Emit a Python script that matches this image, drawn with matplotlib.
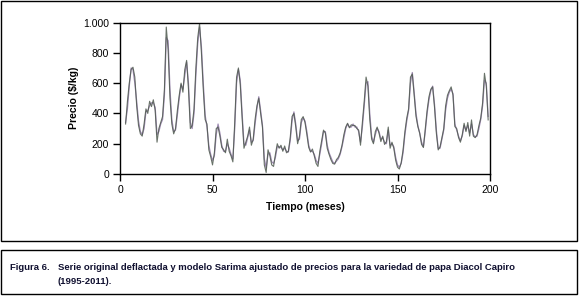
import numpy as np
import matplotlib
matplotlib.use("Agg")
from matplotlib import pyplot as plt
from matplotlib.patches import Rectangle
from matplotlib.ticker import FuncFormatter

plt.rcParams['font.family'] = ['Liberation Sans Narrow', 'Liberation Sans', 'DejaVu Sans']

# months 3..199
months = np.arange(3, 200)

# original deflated series ($/kg)
serie = [
    330, 480, 600, 690, 705, 640, 450, 320, 265, 250,
    330, 430, 400, 480, 445, 490, 420, 210, 300, 340,
    380, 560, 970, 820, 500, 330, 265, 300, 420, 520,
    600, 540, 690, 750, 560, 300, 320, 430, 700, 900,
    995, 800, 560, 360, 330, 160, 115, 60, 140, 300,
    310, 250, 175, 160, 140, 230, 150, 120, 80, 340,
    640, 700, 590, 370, 170, 210, 250, 310, 190, 230,
    360, 450, 500, 400, 310, 60, 10, 160, 120, 60,
    50, 130, 200, 170, 190, 150, 185, 140, 150, 240,
    380, 400, 310, 200, 250, 360,
    379, 340, 260, 175, 145, 165, 120, 70, 50, 150,
    220, 290, 270, 170, 130, 95, 70, 65, 95, 110,
    140, 190, 260, 310, 335, 305, 325, 320, 320, 300,
    290, 190, 340, 480, 640, 580, 360, 230, 200, 280,
    310, 270, 214, 250, 195, 214, 310, 170, 210, 170,
    90, 45, 33, 75, 159, 280, 370, 430, 640, 660,
    520, 380, 313, 269, 195, 175, 300, 420, 510, 560,
    575, 440, 269, 159, 180, 240, 300, 450, 520, 550,
    575, 520, 313, 300, 240, 210, 260, 335, 280, 340,
    250, 357, 250, 240, 260, 320, 370, 470, 665, 580,
    357,
]

# fitted SARIMA model
sarima = [
    340, 430, 580, 700, 690, 600, 480, 350, 280, 260,
    300, 410, 420, 450, 470, 470, 440, 260, 280, 330,
    360, 520, 900, 880, 560, 360, 280, 290, 390, 500,
    590, 560, 650, 740, 600, 340, 300, 400, 650, 860,
    970, 840, 600, 390, 310, 190, 130, 90, 120, 260,
    330, 270, 190, 150, 150, 200, 170, 130, 100, 300,
    600, 690, 620, 400, 200, 190, 240, 290, 210, 220,
    330, 430, 510, 420, 320, 100, 40, 130, 140, 80,
    70, 110, 180, 180, 175, 160, 170, 150, 145, 220,
    350, 410, 330, 220, 230, 340,
    370, 350, 280, 190, 150, 150, 130, 90, 70, 130,
    200, 280, 280, 190, 140, 110, 80, 70, 85, 100,
    130, 180, 240, 300, 330, 310, 310, 330, 310, 310,
    280, 210, 310, 450, 600, 610, 400, 250, 210, 260,
    300, 280, 230, 240, 210, 200, 290, 190, 200, 180,
    110, 60, 45, 70, 140, 260, 350, 420, 600, 670,
    540, 400, 320, 270, 210, 180, 280, 400, 490, 550,
    580, 460, 290, 170, 170, 230, 290, 420, 500, 540,
    560, 530, 330, 290, 250, 220, 250, 320, 290, 320,
    270, 330, 260, 245, 250, 300, 360, 450, 620, 600,
    380,
]

x_ticks = [0, 50, 100, 150, 200]
y_ticks = [0, 200, 400, 600, 800, 1000]

fig = plt.figure(figsize=(5.79, 2.97), dpi=100)
ax = fig.add_axes([0.2073, 0.4141, 0.639, 0.5101])

ax.plot(months, sarima, color='#a08cb4', lw=0.9)
ax.plot(months, serie, color='#4f5a4f', lw=0.8, alpha=0.85)

ax.set_xlim(0, 200)
ax.set_ylim(0, 1000)
ax.set_xticks(x_ticks)
ax.set_yticks(y_ticks)
ax.yaxis.set_major_formatter(FuncFormatter(lambda v, p: "{:,.0f}".format(v).replace(",", ".")))
ax.tick_params(direction='out', length=5, width=1, labelsize=7.5, colors='black', pad=3)
for s in ax.spines.values():
    s.set_linewidth(1)

ax.set_xlabel("Tiempo (meses)", fontsize=7.5, fontweight='bold', labelpad=5)
ax.set_ylabel("Precio ($/kg)", fontsize=7.5, fontweight='bold', labelpad=3)

# frames round chart and caption
W, H = 579, 297
fig.patches.append(Rectangle((1 / W, 1 - 241 / H), 576 / W, 240 / H, transform=fig.transFigure,
                             fill=False, edgecolor='black', lw=1))
fig.patches.append(Rectangle((1 / W, 1 - 294 / H), 576 / W, 44 / H, transform=fig.transFigure,
                             fill=False, edgecolor='black', lw=1))

cap = dict(fontsize=6.8, fontweight='bold', color='#101030', va='center')
fig.text(10 / W, 1 - 268 / H, "Figura 6.", **cap)
fig.text(58 / W, 1 - 268 / H,
         "Serie original deflactada y modelo Sarima ajustado de precios para la variedad de papa Diacol Capiro",
         **cap)
fig.text(58 / W, 1 - 281 / H, "(1995-2011).", **cap)

fig.savefig("out.png", dpi=100)
